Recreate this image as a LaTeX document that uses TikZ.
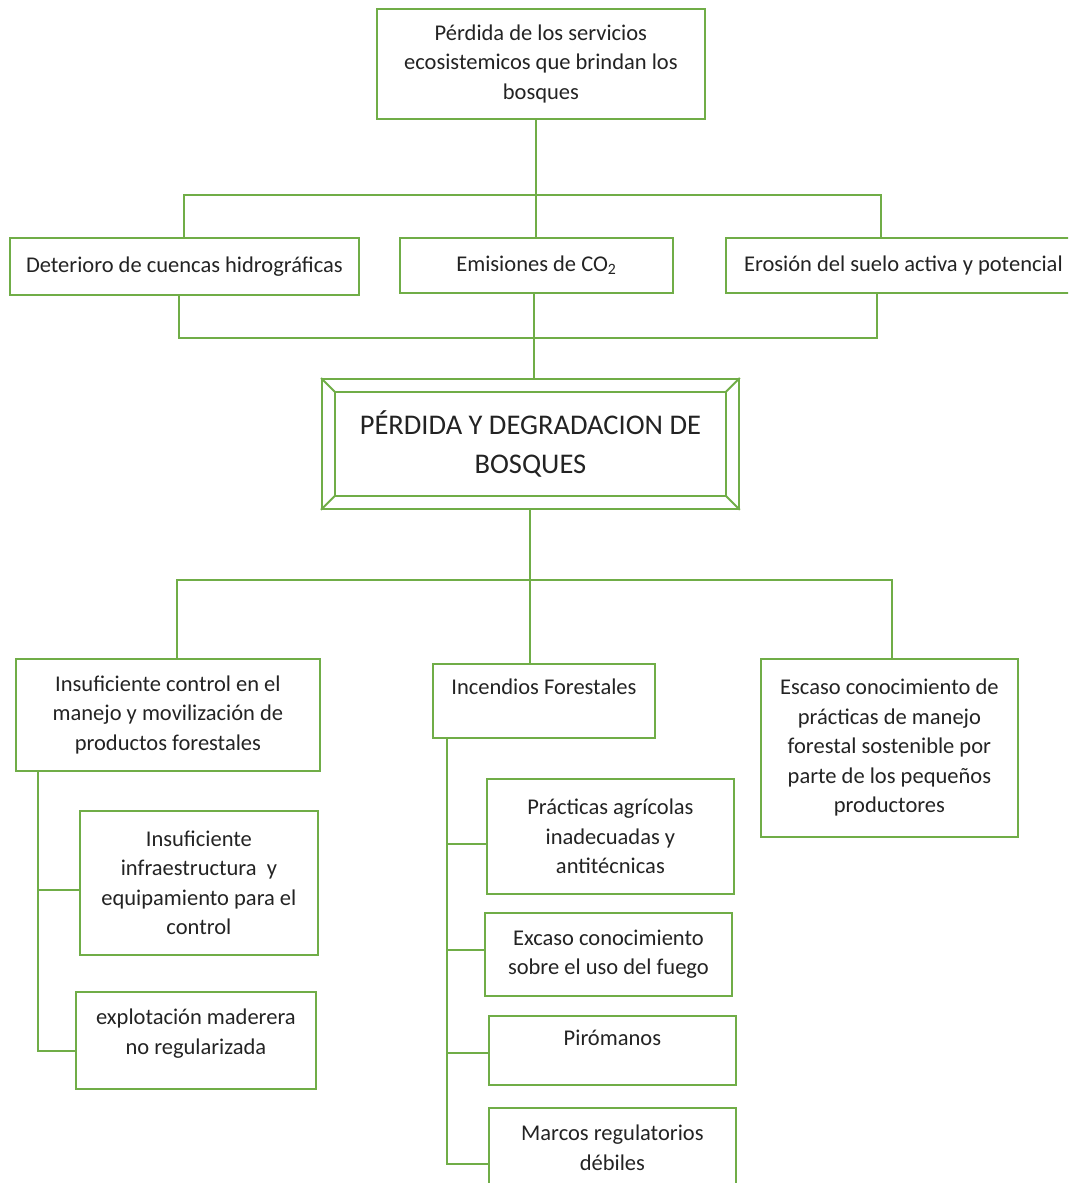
\documentclass[tikz,border=0pt]{standalone}
\usepackage{fontspec}
\setmainfont{Carlito}
\usepackage{tikz}
\usetikzlibrary{positioning}
\definecolor{leaf}{RGB}{112,173,71}
\definecolor{ink}{RGB}{35,35,35}
\tikzstyle{box} = [rectangle, draw=leaf, line width=1.8pt, text=ink, align=center, inner sep=0pt, anchor=north west, font=\fontsize{22.5}{29.5}\selectfont]
\tikzstyle{bigbox} = [box, font=\fontsize{28.5}{39}\selectfont]
\tikzstyle{link} = [draw=leaf, line width=2pt]

\begin{document}
\begin{tikzpicture}[x=1pt, y=-1pt]
\clip (0,0) rectangle (1068,1183);
\node (top) [box, minimum width=328pt, minimum height=110pt] at (376,8) {Pérdida de los servicios\\ecosistemicos que brindan los\\bosques};
\node (det) [box, minimum width=349pt, minimum height=57pt] at (9,237) {Deterioro de cuencas hidrográficas};
\node (emi) [box, minimum width=273pt, minimum height=55pt] at (399,237) {Emisiones de CO\textsubscript{2}};
\node (ero) [box, minimum width=355pt, minimum height=55pt] at (725,237) {Erosión del suelo activa y potencial};
\node (main) [bigbox, minimum width=417pt, minimum height=130pt] at (321,378) {PÉRDIDA Y DEGRADACION DE\\BOSQUES};
\node (ctl) [box, minimum width=304pt, minimum height=112pt] at (15,658) {Insuficiente control en el\\manejo y movilización de\\productos forestales};
\node (inc) [box, minimum width=222pt, minimum height=74pt, text height=15pt, text depth=27pt] at (432,663) {Incendios Forestales};
\node (esc) [box, minimum width=257pt, minimum height=178pt] at (760,658) {Escaso conocimiento de\\prácticas de manejo\\forestal sostenible por\\parte de los pequeños\\productores};
\node (inf) [box, minimum width=238pt, minimum height=144pt] at (79,810) {Insuficiente\\infraestructura~ y\\equipamiento para el\\control};
\node (exp) [box, minimum width=240pt, minimum height=97pt] at (75,991) {explotación maderera\\no regularizada\\[-12pt]\mbox{}};
\node (pra) [box, minimum width=247pt, minimum height=115pt] at (486,778) {Prácticas agrícolas\\inadecuadas y\\antitécnicas};
\node (fue) [box, minimum width=247pt, minimum height=83pt] at (484,912) {Excaso conocimiento\\sobre el uso del fuego};
\node (pir) [box, minimum width=247pt, minimum height=69pt, text height=15pt, text depth=24pt] at (488,1015) {Pirómanos};
\node (mar) [box, minimum width=247pt, minimum height=80pt] at (488,1107) {Marcos regulatorios\\débiles};

% bevel of the main box
\draw [link] ([shift={(14,14)}]main.north west) rectangle ([shift={(-14,-14)}]main.south east);
\draw [link] (main.north west) -- ++(14,14);
\draw [link] (main.north east) -- ++(-14,14);
\draw [link] (main.south west) -- ++(14,-14);
\draw [link] (main.south east) -- ++(-14,-14);

% effects
\draw [link] (emi.north |- top.south) -- (emi.north);
\draw [link] (det.north) -- ++(0,-42) -| ([xshift=-22.5]ero.north);
\draw [link] ([xshift=-5]det.south) -- ++(0,42) -| ([xshift=-26.5]ero.south);
\draw [link] ([xshift=-2]emi.south) -- ([xshift=-2]emi.south |- main.north);

% causes
\draw [link] (main.south) -- (main.south |- inc.north);
\draw [link] ([xshift=9]ctl.north) -- ++(0,-78) -| ([xshift=2.5]esc.north);
\draw [link] ([xshift=-130]ctl.south) |- ([yshift=-7]inf.west);
\draw [link] ([xshift=-130]ctl.south) |- ([yshift=-10.5]exp.west);
\draw [link] ([xshift=-97]inc.south) |- ([yshift=-7.5]pra.west);
\draw [link] ([xshift=-97]inc.south) |- ([yshift=4.5]fue.west);
\draw [link] ([xshift=-97]inc.south) |- ([yshift=-2.5]pir.west);
\draw [link] ([xshift=-97]inc.south) |- ([yshift=-16]mar.west);
\end{tikzpicture}
\end{document}
